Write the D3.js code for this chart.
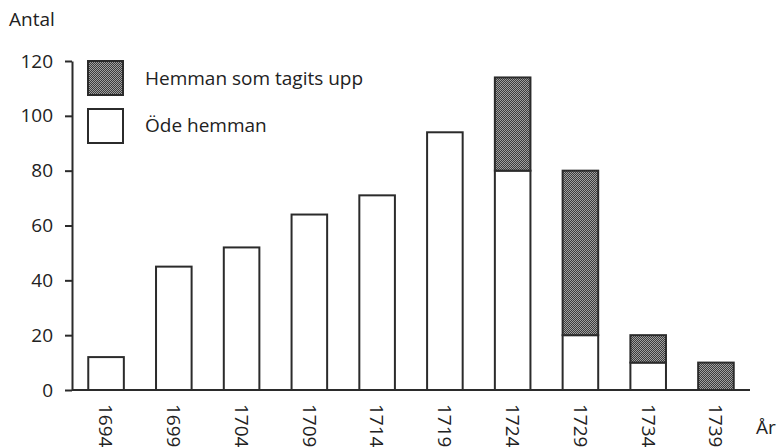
<!DOCTYPE html>
<html><head><meta charset="utf-8">
<script src="https://cdn.jsdelivr.net/npm/d3@7"></script>
<style>body{margin:0;background:#fff;} text{font-family:"Open Sans",Lato,sans-serif;fill:#222;}</style>
</head><body><svg id="c" width="784" height="447"></svg>
<script>
const years = ["1694","1699","1704","1709","1714","1719","1724","1729","1734","1739"];
const odeHemman = [12,45,52,64,71,94,80,20,10,0];
const upptagna = [0,0,0,0,0,0,34,60,10,10];
const yTicks = [0,20,40,60,80,100,120];
const legendLabels = ["Hemman som tagits upp","Öde hemman"];

const FONT = "Open Sans";
const FS = 19;
const svg = d3.select("#c");
const ink = "#2b2b2b";
const defs = svg.append("defs");
const pat = defs.append("pattern").attr("id","dots").attr("width",2).attr("height",2).attr("patternUnits","userSpaceOnUse");
pat.append("rect").attr("width",2).attr("height",2).attr("fill","#3c3c3c");
pat.append("rect").attr("width",1).attr("height",1).attr("fill","#a0a0a0");
pat.append("rect").attr("x",1).attr("y",1).attr("width",1).attr("height",1).attr("fill","#a0a0a0");

const x = d3.scaleBand().domain(years).range([72,750]).paddingInner(0.475).paddingOuter(0.24);
const y = d3.scaleLinear().domain([0,120]).range([390,61]);

// y axis
const ya = svg.append("g").attr("transform","translate(72,0)")
  .call(d3.axisLeft(y).tickValues(yTicks).tickSize(7).tickPadding(12).tickSizeOuter(0));
ya.select(".domain").attr("stroke",ink).attr("stroke-width",2);
ya.selectAll(".tick line").attr("stroke",ink).attr("stroke-width",2);
ya.selectAll(".tick text").attr("font-size",FS).attr("fill","#222").attr("font-family",FONT);

// bars
const data = years.map((yr,i)=>({yr,ode:odeHemman[i],upp:upptagna[i]}));
const g = svg.append("g");
g.selectAll(".ode").data(data.filter(d=>d.ode>0)).join("rect")
  .attr("x",d=>x(d.yr)).attr("width",x.bandwidth())
  .attr("y",d=>y(d.ode)).attr("height",d=>y(0)-y(d.ode))
  .attr("fill","#fff").attr("stroke",ink).attr("stroke-width",2);
g.selectAll(".upp").data(data.filter(d=>d.upp>0)).join("rect")
  .attr("x",d=>x(d.yr)).attr("width",x.bandwidth())
  .attr("y",d=>y(d.ode+d.upp)).attr("height",d=>y(d.ode)-y(d.ode+d.upp))
  .attr("fill","url(#dots)").attr("stroke",ink).attr("stroke-width",2);

// x axis
const xa = svg.append("g").attr("transform","translate(0,390)")
  .call(d3.axisBottom(x).tickSize(0).tickPadding(0));
xa.select(".domain").attr("d","M72,0H750").attr("stroke",ink).attr("stroke-width",2);
xa.selectAll(".tick text").attr("font-size",FS).attr("fill","#222").attr("font-family",FONT)
  .attr("text-anchor","start").attr("transform","translate(0,14) rotate(90)").attr("x",0).attr("y",0).attr("dy","0.35em");

// axis titles
svg.append("text").attr("x",9).attr("y",26).attr("font-size",FS).text("Antal");
svg.append("text").attr("x",756).attr("y",434).attr("font-size",FS).text("År");

// legend
const lg = svg.append("g");
const fills = ["url(#dots)","#fff"];
legendLabels.forEach((lab,i)=>{
  lg.append("rect").attr("x",88).attr("y",61+i*48).attr("width",35).attr("height",34)
    .attr("fill",fills[i]).attr("stroke",ink).attr("stroke-width",2);
  lg.append("text").attr("x",145).attr("y",85+i*47).attr("font-size",FS).text(lab);
});
</script></body></html>
